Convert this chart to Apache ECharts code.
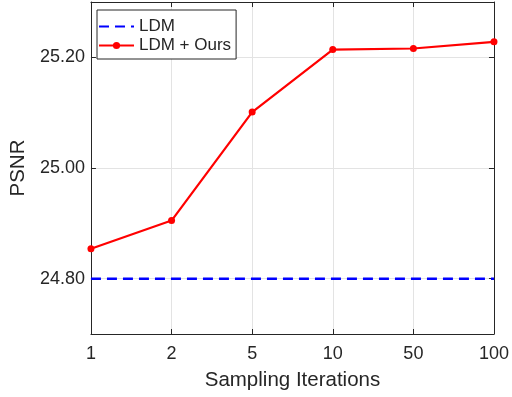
<!DOCTYPE html>
<html>
<head>
<meta charset="utf-8">
<script src="https://cdn.jsdelivr.net/npm/echarts@6/dist/echarts.min.js"></script>
<style>html,body{margin:0;padding:0;background:#fff;}#c{width:512px;height:397px;}</style>
</head>
<body>
<div id="c"></div>
<script>
const categories = ['1', '2', '5', '10', '50', '100'];
const ldmValues = [24.80, 24.80, 24.80, 24.80, 24.80, 24.80];
const oursValues = [24.854, 24.905, 25.101, 25.214, 25.216, 25.228];
const yTickValues = [24.8, 25.0, 25.2];
const seriesNames = ['LDM', 'LDM + Ours'];
const xTitle = 'Sampling Iterations';
const yTitle = 'PSNR';

const axisColor = '#262626';
const gridColor = '#e3e3e3';
const font = 'Arial, "Liberation Sans", Helvetica, sans-serif';

const chart = echarts.init(document.getElementById('c'), null, {renderer: 'canvas'});
chart.setOption({
  animation: false,
  backgroundColor: '#ffffff',
  grid: {left: 88, right: 15, top: 2, bottom: 63, containLabel: false},
  legend: {
    orient: 'vertical',
    left: 97, top: 10,
    data: [
      {name: seriesNames[0], itemStyle: {opacity: 0}},
      {name: seriesNames[1]}
    ],
    backgroundColor: '#ffffff',
    borderColor: axisColor,
    borderWidth: 1,
    padding: [8, 5, 5, 1],
    itemWidth: 35, itemHeight: 9, itemGap: 2,
    textStyle: {fontFamily: font, fontSize: 17, color: axisColor, lineHeight: 17}
  },
  xAxis: [{
    type: 'category',
    data: categories,
    boundaryGap: false,
    position: 'bottom',
    name: xTitle,
    nameLocation: 'middle',
    nameGap: 36,
    nameTextStyle: {fontFamily: font, fontSize: 20.5, color: axisColor},
    axisLine: {show: true, lineStyle: {color: axisColor, width: 1}},
    axisTick: {show: true, inside: true, length: 5, alignWithLabel: true, lineStyle: {color: axisColor}},
    axisLabel: {fontFamily: font, fontSize: 18, color: axisColor, margin: 11},
    splitLine: {show: true, lineStyle: {color: gridColor, width: 1}}
  }, {
    type: 'category',
    data: categories,
    boundaryGap: false,
    position: 'top',
    axisLine: {show: true, onZero: false, lineStyle: {color: axisColor, width: 1}},
    axisTick: {show: true, inside: true, length: 5, lineStyle: {color: axisColor}},
    axisLabel: {show: false},
    splitLine: {show: false}
  }],
  yAxis: [{
    type: 'value',
    min: 24.7, max: 25.3,
    position: 'left',
    name: yTitle,
    nameLocation: 'middle',
    nameGap: 57,
    nameTextStyle: {fontFamily: font, fontSize: 20.5, color: axisColor},
    axisLine: {show: true, lineStyle: {color: axisColor, width: 1}},
    axisTick: {show: true, inside: true, length: 5, lineStyle: {color: axisColor}, customValues: yTickValues},
    axisLabel: {fontFamily: font, fontSize: 18, color: axisColor, margin: 6, customValues: yTickValues,
      formatter: v => v.toFixed(2)},
    splitLine: {show: true, lineStyle: {color: gridColor, width: 1}}
  }, {
    type: 'value',
    min: 24.7, max: 25.3,
    position: 'right',
    axisLine: {show: true, onZero: false, lineStyle: {color: axisColor, width: 1}},
    axisTick: {show: true, inside: true, length: 5, lineStyle: {color: axisColor}, customValues: yTickValues},
    axisLabel: {show: false, customValues: yTickValues},
    splitLine: {show: false}
  }],
  series: [{
    name: seriesNames[0],
    type: 'line',
    data: ldmValues,
    symbol: 'none',
    color: '#0000ff',
    lineStyle: {color: '#0000ff', width: 2.5, type: [10, 6]},
    z: 3
  }, {
    name: seriesNames[1],
    type: 'line',
    data: oursValues,
    symbol: 'circle',
    symbolSize: 7,
    showAllSymbol: true,
    color: '#ff0000',
    itemStyle: {color: '#ff0000'},
    lineStyle: {color: '#ff0000', width: 2.2},
    z: 4
  }]
});
</script>
</body>
</html>
